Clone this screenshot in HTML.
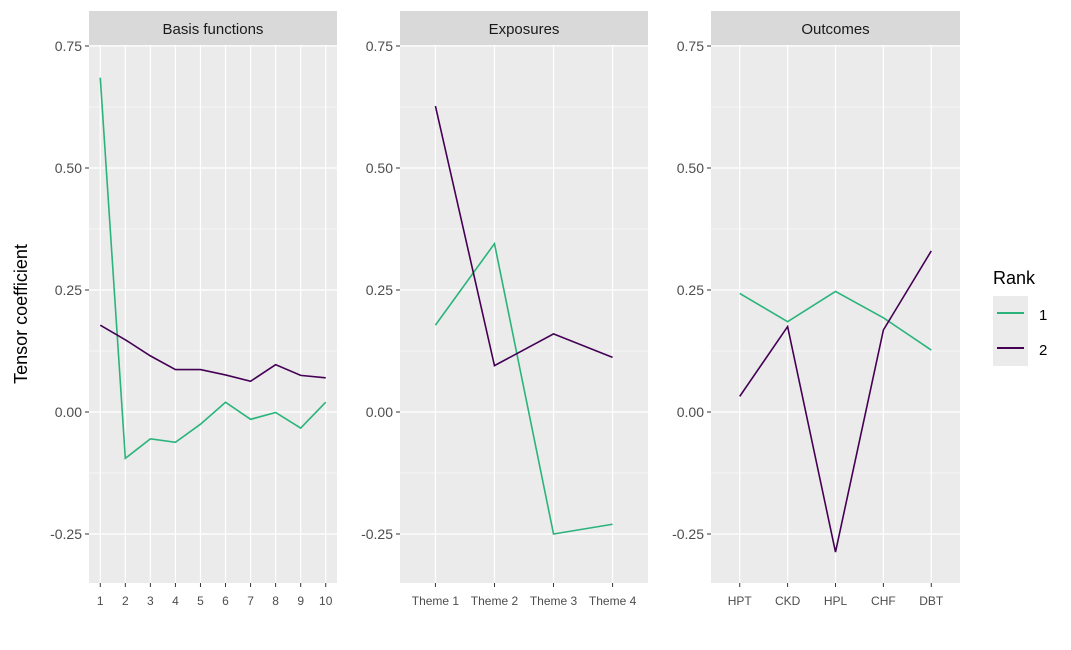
<!DOCTYPE html>
<html><head><meta charset="utf-8"><style>
body{margin:0;background:#fff;font-family:"Liberation Sans",sans-serif;}
svg text{font-family:"Liberation Sans",sans-serif;}
</style></head><body>
<svg id="chart" width="1071" height="645" xmlns="http://www.w3.org/2000/svg">
<text transform="translate(27,314) rotate(-90)" text-anchor="middle" font-size="18" fill="#000">Tensor coefficient</text>
<g>
<text x="993" y="284" font-size="18">Rank</text>
<rect x="993" y="296" width="35" height="70" fill="#ebebeb"/>
<line x1="997" x2="1024" y1="313" y2="313" stroke="#2ab47c" stroke-width="2"/>
<line x1="997" x2="1024" y1="348" y2="348" stroke="#440154" stroke-width="2"/>
<text x="1039" y="320" font-size="15">1</text>
<text x="1039" y="355" font-size="15">2</text>
</g>
</svg>
<script>
const basisCats=["1","2","3","4","5","6","7","8","9","10"];
const basisRank1=[0.685,-0.095,-0.055,-0.062,-0.025,0.02,-0.015,-0.001,-0.033,0.02];
const basisRank2=[0.178,0.148,0.115,0.087,0.087,0.076,0.063,0.097,0.075,0.07];
const expCats=["Theme 1","Theme 2","Theme 3","Theme 4"];
const expRank1=[0.178,0.345,-0.25,-0.23];
const expRank2=[0.627,0.095,0.16,0.112];
const outCats=["HPT","CKD","HPL","CHF","DBT"];
const outRank1=[0.243,0.185,0.247,0.193,0.127];
const outRank2=[0.032,0.175,-0.287,0.168,0.33];
const yTicks=[0.75,0.5,0.25,0,-0.25];
const yTickLabels=["0.75","0.50","0.25","0.00","-0.25"];

const NS="http://www.w3.org/2000/svg";
const svg=document.getElementById('chart');
const yTop=45,yBot=583;
function y(v){return 412-(v*488);}
function mk(t,a,p){const e=document.createElementNS(NS,t);for(const k in a)e.setAttribute(k,a[k]);(p||svg).appendChild(e);return e;}
const panels=[
 {name:"basis",title:"Basis functions",x0:89,x1:337,cats:basisCats,s1:basisRank1,s2:basisRank2,cont:true},
 {name:"exposures",title:"Exposures",x0:400,x1:648,cats:expCats,s1:expRank1,s2:expRank2},
 {name:"outcomes",title:"Outcomes",x0:711,x1:960,cats:outCats,s1:outRank1,s2:outRank2}
];
panels.forEach(p=>{
 const n=p.cats.length,w=p.x1-p.x0;
 let x;
 if(p.cont){const span=(n-1)*1.1,u=w/span;x=i=>p.x0+(n-1)*0.05*u+i*u;}
 else{const step=w/(n-1+1.2);x=i=>p.x0+step*0.6+i*step;}
 const g=mk('g',{});
 
 
 const bg=mk('rect',{x:p.x0,y:yTop,width:w,height:yBot-yTop,fill:'#ebebeb'},g);
 
 
 const st=mk('rect',{x:p.x0,y:11,width:w,height:34,fill:'#d9d9d9'},g);
 
 
 const stt=mk('text',{x:(p.x0+p.x1)/2,y:34,'text-anchor':'middle','font-size':'15',fill:'#1a1a1a'},g);
 stt.textContent=p.title;
 
 
 for(let i=0;i<yTicks.length-1;i++){
  const m=(yTicks[i]+yTicks[i+1])/2;
  const l=mk('line',{x1:p.x0,x2:p.x1,y1:y(m),y2:y(m),stroke:'#fff','stroke-width':0.6},g);
  
  
 }
 const ml=mk('line',{x1:p.x0,x2:p.x1,y1:y(-0.375),y2:y(-0.375),stroke:'#fff','stroke-width':0.6},g);
 
 
 yTicks.forEach((v,i)=>{
  const l=mk('line',{x1:p.x0,x2:p.x1,y1:y(v),y2:y(v),stroke:'#fff','stroke-width':1.2},g);
  
  
  mk('line',{x1:p.x0-4,x2:p.x0,y1:y(v),y2:y(v),stroke:'#333','stroke-width':1},g);
  const t=mk('text',{x:p.x0-7,y:y(v)+5,'text-anchor':'end','font-size':'14',fill:'#4d4d4d'},g);
  t.textContent=yTickLabels[i];
  
  
 });
 p.cats.forEach((c,i)=>{
  const l=mk('line',{x1:x(i),x2:x(i),y1:yTop,y2:yBot,stroke:'#fff','stroke-width':1.2},g);
  
  
  mk('line',{x1:x(i),x2:x(i),y1:yBot,y2:yBot+4,stroke:'#333','stroke-width':1},g);
  const t=mk('text',{x:x(i),y:605,'text-anchor':'middle','font-size':'12',fill:'#4d4d4d'},g);
  t.textContent=c;
  
  
 });
 [[p.s1,'#2ab47c','1'],[p.s2,'#440154','2']].forEach(([s,col,r])=>{
  const pts=s.map((v,i)=>x(i)+','+y(v)).join(' ');
  const pl=mk('polyline',{points:pts,fill:'none',stroke:col,'stroke-width':1.6},g);
  
  
 });
});
</script>
</body></html>
